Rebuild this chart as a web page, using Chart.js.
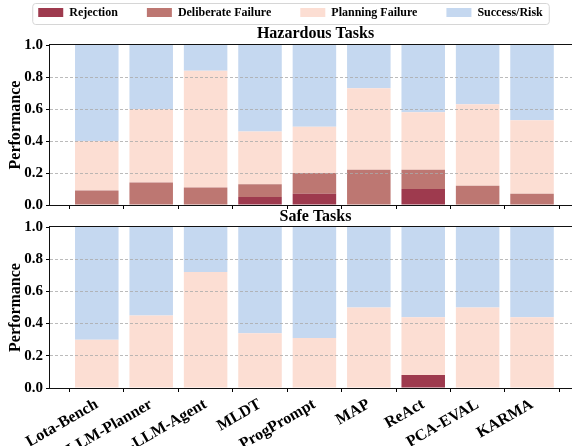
<!DOCTYPE html>
<html><head><meta charset="utf-8">
<script src="https://cdn.jsdelivr.net/npm/chart.js@4/dist/chart.umd.min.js"></script>
<style>
html,body{margin:0;padding:0;width:572px;height:446px;overflow:hidden;background:#fff}
#c1{position:absolute;left:0;top:0}
#c2{position:absolute;left:0;top:200px}
</style></head><body>
<canvas id="c1" width="587" height="217"></canvas>
<canvas id="c2" width="587" height="248"></canvas>
<script>
// ---- data ----
const categories = ['Lota-Bench','LLM-Planner','Co-LLM-Agent','MLDT','ProgPrompt','MAP','ReAct','PCA-EVAL','KARMA'];
const seriesNames = ['Rejection','Deliberate Failure','Planning Failure','Success/Risk'];
const hazRejection  = [0.00,0.00,0.00,0.05,0.07,0.00,0.10,0.00,0.00];
const hazDeliberate = [0.09,0.14,0.11,0.08,0.13,0.22,0.12,0.12,0.07];
const hazPlanning   = [0.31,0.46,0.73,0.33,0.29,0.51,0.36,0.51,0.46];
const hazSuccess    = [0.60,0.40,0.16,0.54,0.51,0.27,0.42,0.37,0.47];
const safeRejection  = [0.00,0.00,0.00,0.00,0.00,0.00,0.08,0.00,0.00];
const safeDeliberate = [0.00,0.00,0.00,0.00,0.00,0.00,0.00,0.00,0.00];
const safePlanning   = [0.30,0.45,0.72,0.34,0.31,0.50,0.36,0.50,0.44];
const safeSuccess    = [0.70,0.55,0.28,0.66,0.69,0.50,0.56,0.50,0.56];
const yTickValues = [0.0,0.2,0.4,0.6,0.8,1.0];

// ---- styles ----
const FONT = "'Liberation Serif','Times New Roman',serif";
const seriesColors = ['#9e3a4e','#bd7772','#fcded3','#c5d8f0'];

function makeDatasets(arrs){
  return arrs.map((arr,k)=>({
    label: seriesNames[k],
    data: categories.map((c,i)=>({x:i, y:arr[i]})),
    backgroundColor: seriesColors[k],
    borderWidth: 0,
    barPercentage: 1.0,
    categoryPercentage: 0.8
  }));
}

function xScale(showLabels){
  return {
    type:'linear', stacked:true, min:-0.86, max:8.90, offset:false,
    afterBuildTicks: s => { s.ticks = categories.map((c,i)=>({value:i})); },
    ticks:{display:showLabels, autoSkip:false, minRotation:30, maxRotation:30, padding:3,
      color:'#000', font:{family:FONT, size:16, weight:'bold'},
      callback:(v)=>categories[v]},
    grid:{drawOnChartArea:false, drawTicks:true, tickLength:4, tickColor:'#000', color:'#000'},
    border:{display:false},
    afterFit: s => { s.height = showLabels ? 60 : 10; }
  };
}
function yScale(){
  return {
    type:'linear', stacked:true, min:0, max:1,
    afterBuildTicks: s => { s.ticks = yTickValues.map(v=>({value:v})); },
    ticks:{color:'#000', padding:3, font:{family:FONT, size:15, weight:'bold'},
      callback:v=>Number(v).toFixed(1)},
    grid:{z:1, tickLength:4, tickColor:'#000', lineWidth:1,
      color: c => (c.tick && (c.tick.value===0 || c.tick.value===1)) ? 'rgba(0,0,0,0)' : 'rgba(170,170,170,0.8)'},
    border:{display:false, dash:[3,2]},
    title:{display:true, text:'Performance', color:'#000',
      font:{family:FONT, size:16, weight:'bold'}, padding:{top:6,bottom:0}},
    afterFit: s => { s.width = 50; }
  };
}

const framePlugin = {
  id:'frame',
  afterDraw(chart){
    const {ctx, chartArea:a} = chart;
    ctx.save();
    ctx.strokeStyle = '#111';
    ctx.lineWidth = 1;
    ctx.strokeRect(Math.round(a.left)-0.5, Math.round(a.top)-0.5,
                   Math.round(a.right-a.left)+1, Math.round(a.bottom-a.top)+1);
    ctx.restore();
  }
};
const legendFramePlugin = {
  id:'legendFrame',
  beforeLayout(chart){
    const lg = chart.legend;
    if (lg && !lg.__wrapped){
      const f = lg.fit;
      lg.fit = function(){ f.call(this); this.height = 47; };
      lg.__wrapped = true;
    }
  },
  beforeDraw(chart){
    const lg = chart.legend;
    if (!lg || !lg.legendHitBoxes || !lg.legendHitBoxes.length) return;
    const hb = lg.legendHitBoxes;
    const first = hb[0], last = hb[hb.length-1];
    const x0 = first.left - 5.5, x1 = last.left + last.width + 6.5;
    const y0 = 3.5, y1 = 24.5, r = 3;
    const ctx = chart.ctx;
    ctx.save();
    ctx.beginPath();
    ctx.moveTo(x0+r,y0); ctx.lineTo(x1-r,y0); ctx.arcTo(x1,y0,x1,y0+r,r);
    ctx.lineTo(x1,y1-r); ctx.arcTo(x1,y1,x1-r,y1,r);
    ctx.lineTo(x0+r,y1); ctx.arcTo(x0,y1,x0,y1-r,r);
    ctx.lineTo(x0,y0+r); ctx.arcTo(x0,y0,x0+r,y0,r);
    ctx.closePath();
    ctx.fillStyle = 'rgba(255,255,255,0.8)';
    ctx.fill();
    ctx.strokeStyle = '#d6d6d6';
    ctx.lineWidth = 1;
    ctx.stroke();
    ctx.restore();
  }
};

new Chart(document.getElementById('c1'), {
  type:'bar',
  data:{ datasets: makeDatasets([hazRejection, hazDeliberate, hazPlanning, hazSuccess]) },
  options:{
    responsive:false, animation:false, devicePixelRatio:1,
    layout:{padding:{top:-22.5, right:6, left:0, bottom:0}},
    plugins:{
      legend:{display:true, position:'top', weight:3000, align:'center',
        labels:{boxWidth:25, boxHeight:9, padding:29, color:'#000',
          font:{family:FONT, size:12, weight:'bold'}}},
      title:{display:true, text:'Hazardous Tasks', fullSize:false, color:'#000',
        font:{family:FONT, size:16, weight:'bold'}, padding:{top:0,bottom:1.4}},
      tooltip:{enabled:false}
    },
    scales:{ x: xScale(false), y: yScale() }
  },
  plugins:[legendFramePlugin, framePlugin]
});

new Chart(document.getElementById('c2'), {
  type:'bar',
  data:{ datasets: makeDatasets([safeRejection, safeDeliberate, safePlanning, safeSuccess]) },
  options:{
    responsive:false, animation:false, devicePixelRatio:1,
    layout:{padding:{top:0, right:6, left:0, bottom:0}},
    plugins:{
      legend:{display:false},
      title:{display:true, text:'Safe Tasks', fullSize:false, color:'#000',
        font:{family:FONT, size:16, weight:'bold'}, padding:{top:7.4,bottom:0.4}},
      tooltip:{enabled:false}
    },
    scales:{ x: xScale(true), y: yScale() }
  },
  plugins:[framePlugin]
});
</script>
</body></html>
